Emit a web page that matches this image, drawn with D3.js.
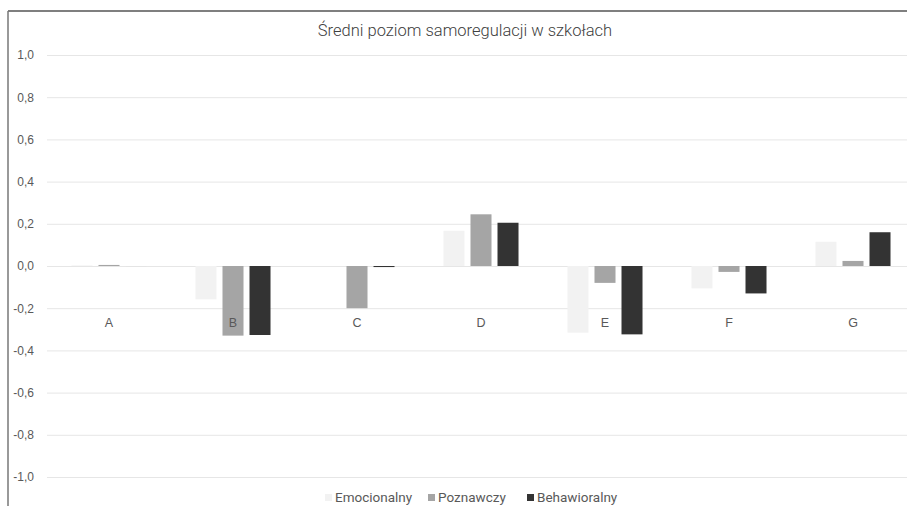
<!DOCTYPE html>
<html>
<head>
<meta charset="utf-8">
<script src="https://cdn.jsdelivr.net/npm/d3@7/dist/d3.min.js"></script>
<style>
  html, body { margin: 0; padding: 0; background: #fff; }
  svg { display: block; font-family: Roboto, "Noto Sans", sans-serif; }
</style>
</head>
<body>
<svg id="chart" width="907" height="506"></svg>
<script>
const categories = ["A", "B", "C", "D", "E", "F", "G"];
const series = ["Emocionalny", "Poznawczy", "Behawioralny"];
const emocionalny  = [0.003, -0.158, 0.000, 0.167, -0.316, -0.106, 0.115];
const poznawczy    = [0.005, -0.330, -0.200, 0.245, -0.080, -0.028, 0.024];
const behawioralny = [0.000, -0.327, -0.005, 0.205, -0.324, -0.130, 0.160];
const yTicks = [-1.0, -0.8, -0.6, -0.4, -0.2, 0.0, 0.2, 0.4, 0.6, 0.8, 1.0];
const colors = ["#f2f2f2", "#a5a5a5", "#333333"];
const title = "Średni poziom samoregulacji w szkołach";

const values = [emocionalny, poznawczy, behawioralny];
const rows = categories.map((c, i) => ({
  category: c,
  vals: series.map((s, j) => ({ series: s, value: values[j][i], idx: j }))
}));

const svg = d3.select("#chart");
const W = 907, H = 506;

// frame of the chart area
svg.append("line").attr("x1", 8).attr("x2", W).attr("y1", 11).attr("y2", 11)
  .attr("stroke", "#555").attr("stroke-width", 1.5);
svg.append("line").attr("x1", 8).attr("x2", 8).attr("y1", 11).attr("y2", H)
  .attr("stroke", "#777").attr("stroke-width", 1.5);

const y = d3.scaleLinear().domain([-1, 1]).range([477, 55]);
const x0 = d3.scaleBand().domain(categories).range([47, 915])
  .paddingInner(0.395).paddingOuter(0.1975);
const x1 = d3.scaleBand().domain(series).range([0, x0.bandwidth()])
  .paddingInner(6 / 27).paddingOuter(0);

// horizontal gridlines
const yAxis = d3.axisLeft(y).tickValues(yTicks)
  .tickSize(-(W - 47)).tickPadding(13)
  .tickFormat(d => d3.format(".1f")(d).replace(".", ",").replace("−", "-"));
const gy = svg.append("g").attr("transform", "translate(47,0)").call(yAxis);
gy.select(".domain").remove();
gy.selectAll(".tick line").attr("stroke", "#e6e6e6").attr("stroke-width", 1);
gy.selectAll(".tick text").attr("fill", "#595959").style("font-size", "12px");

// grouped bars
const groups = svg.append("g").selectAll("g").data(rows).join("g")
  .attr("transform", d => `translate(${x0(d.category)},0)`);
groups.selectAll("rect").data(d => d.vals).join("rect")
  .attr("x", d => x1(d.series))
  .attr("width", x1.bandwidth())
  .attr("y", d => y(Math.max(0, d.value)))
  .attr("height", d => Math.max(0.01, Math.abs(y(d.value) - y(0))))
  .attr("fill", d => colors[d.idx]);

// category labels just below the -0,2 line
const xAxis = d3.axisBottom(x0).tickSize(0).tickPadding(0);
const gx = svg.append("g").attr("transform", `translate(0,${y(-0.2) + 10})`).call(xAxis);
gx.select(".domain").remove();
gx.selectAll(".tick text").attr("fill", "#595959").style("font-size", "12.5px")
  .attr("dy", "0.71em");

// title
svg.append("text").attr("x", 465).attr("y", 36).attr("text-anchor", "middle")
  .attr("fill", "#404040").style("font-size", "16.5px").style("font-weight", 300)
  .text(title);

// legend
const legendX = [325, 428, 527];
const lg = svg.append("g").selectAll("g").data(series).join("g")
  .attr("transform", (d, i) => `translate(${legendX[i]},497)`);
lg.append("rect").attr("x", 0).attr("y", -3).attr("width", 7).attr("height", 7)
  .attr("fill", (d, i) => colors[i]);
lg.append("text").attr("x", 10).attr("y", 0).attr("dy", "0.35em")
  .attr("fill", "#595959").style("font-size", "13.5px").text(d => d);
</script>
</body>
</html>
